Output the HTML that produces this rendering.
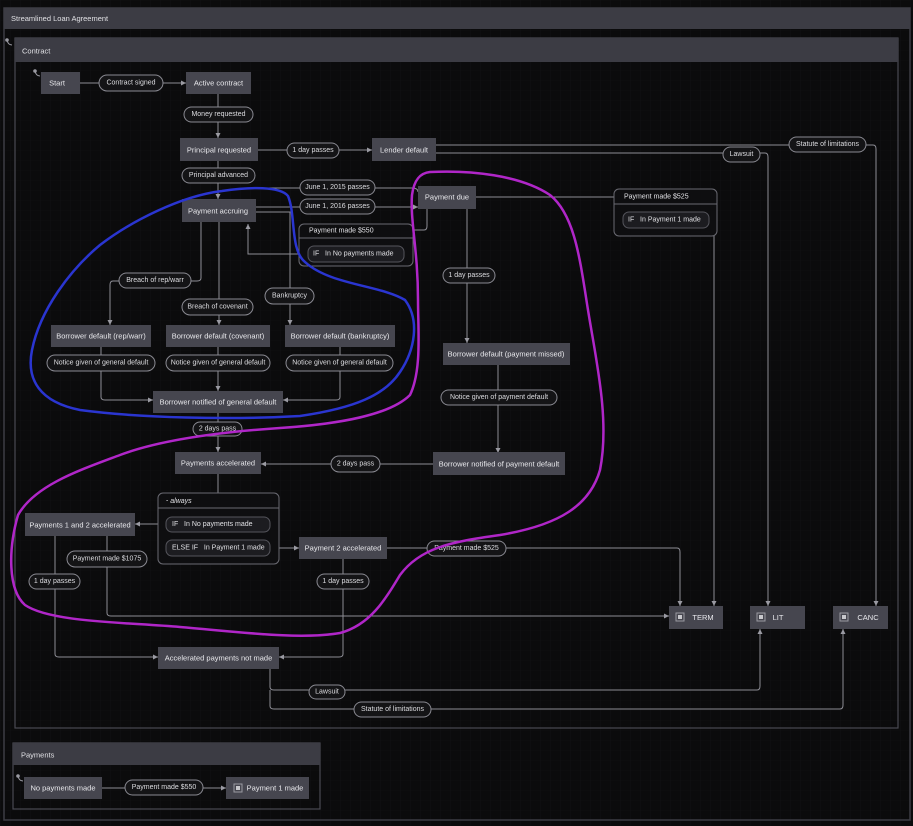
<!DOCTYPE html>
<html><head><meta charset="utf-8"><style>
html,body{margin:0;padding:0;background:#0b0b0c;}
svg{display:block;font-family:"Liberation Sans",sans-serif;}
.n{fill:#46464f;}
.nt{fill:#e8e8ec;font-size:7.5px;text-anchor:middle;dominant-baseline:central;}
.p{fill:#141416;stroke:#8a8a92;stroke-width:1;}
.pt{fill:#dcdce0;font-size:7px;text-anchor:middle;dominant-baseline:central;}
.e{fill:none;stroke:#8c8c94;stroke-width:1;}
.hdr{fill:#3c3c44;}
.ht{fill:#e0e0e4;font-size:7.5px;dominant-baseline:central;white-space:pre;}
</style></head><body>
<svg width="913" height="826" viewBox="0 0 913 826" xmlns="http://www.w3.org/2000/svg">
<defs>
<pattern id="g" width="10" height="10" patternUnits="userSpaceOnUse"><path d="M10 0H0V10" fill="none" stroke="#141416" stroke-width="0.6"/></pattern>
<marker id="a" markerWidth="6" markerHeight="6" refX="5" refY="3" orient="auto"><path d="M0,0.5 L5,3 L0,5.5z" fill="#9a9aa2"/></marker>
</defs>
<rect width="913" height="826" fill="#0b0b0c"/>
<rect width="913" height="826" fill="url(#g)"/>
<rect x="4" y="8" width="906" height="812" fill="none" stroke="#3c3c44" stroke-width="1.5"/>
<rect x="4" y="8" width="906" height="21" class="hdr"/>
<text x="11" y="18.5" class="ht">Streamlined Loan Agreement</text>
<rect x="15" y="38" width="883" height="690" fill="none" stroke="#4a4a52" stroke-width="1.2"/>
<rect x="15" y="38" width="883" height="24" class="hdr"/>
<text x="22" y="51" class="ht">Contract</text>
<rect x="13" y="743" width="307" height="66" fill="none" stroke="#4a4a52" stroke-width="1.2"/>
<rect x="13" y="743" width="307" height="22" class="hdr"/>
<text x="21" y="755" class="ht">Payments</text>

<g class="e">
<path d="M80 83H186" marker-end="url(#a)"/>
<path d="M218 94V138" marker-end="url(#a)"/>
<path d="M258 150H372" marker-end="url(#a)"/>
<path d="M218 161V199" marker-end="url(#a)"/>
<path d="M246 188H412Q418 188 418 192" />
<path d="M256 207H418" marker-end="url(#a)"/>
<path d="M256 212H290V325" marker-end="url(#a)"/>
<path d="M404 254H248V224" marker-end="url(#a)"/>
<path d="M413 230H424Q427 230 427 226V209"/>
<path d="M201 222V278Q201 281 197 281H191"/>
<path d="M119 281H113Q110 281 110 285V325" marker-end="url(#a)"/>
<path d="M219 222V325" marker-end="url(#a)"/>
<path d="M101 347V397Q101 400 105 400H153" marker-end="url(#a)"/>
<path d="M218 347V391" marker-end="url(#a)"/>
<path d="M340 347V397Q340 400 336 400H283" marker-end="url(#a)"/>
<path d="M218 413V452" marker-end="url(#a)"/>
<path d="M476 197H614"/>
<path d="M714 236V606" marker-end="url(#a)"/>
<path d="M436 145H873Q876 145 876 149V606" marker-end="url(#a)"/>
<path d="M436 153H765Q768 153 768 157V606" marker-end="url(#a)"/>
<path d="M467 209V343" marker-end="url(#a)"/>
<path d="M498 365V453" marker-end="url(#a)"/>
<path d="M433 464H261" marker-end="url(#a)"/>
<path d="M218 474V493"/>
<path d="M166 524H135" marker-end="url(#a)"/>
<path d="M270 548H299" marker-end="url(#a)"/>
<path d="M387 548H677Q680 548 680 552V606" marker-end="url(#a)"/>
<path d="M107 536V613Q107 616 111 616H669" marker-end="url(#a)"/>
<path d="M55 536V654Q55 657 59 657H158" marker-end="url(#a)"/>
<path d="M343 559V654Q343 657 339 657H279" marker-end="url(#a)"/>
<path d="M270 669V687Q270 690 274 690H757Q760 690 760 686V629" marker-end="url(#a)"/>
<path d="M270 690V706Q270 709 274 709H840Q843 709 843 705V629" marker-end="url(#a)"/>
<path d="M102 788H226" marker-end="url(#a)"/>
</g>

<g>
<rect class="n" x="41" y="72" width="39" height="22"/><text class="nt" x="57" y="83">Start</text>
<rect class="n" x="186" y="72" width="65" height="22"/><text class="nt" x="218.5" y="83">Active contract</text>
<rect class="n" x="180" y="138" width="78" height="23"/><text class="nt" x="219" y="150">Principal requested</text>
<rect class="n" x="372" y="138" width="64" height="23"/><text class="nt" x="404" y="150">Lender default</text>
<rect class="n" x="182" y="199" width="74" height="23"/><text class="nt" x="218" y="211">Payment accruing</text>
<rect class="n" x="418" y="186" width="58" height="23"/><text class="nt" x="447" y="197">Payment due</text>
<rect class="n" x="51" y="325" width="100" height="22"/><text class="nt" x="101" y="336">Borrower default (rep/warr)</text>
<rect class="n" x="166" y="325" width="104" height="22"/><text class="nt" x="218" y="336">Borrower default (covenant)</text>
<rect class="n" x="285" y="325" width="110" height="22"/><text class="nt" x="340" y="336">Borrower default (bankruptcy)</text>
<rect class="n" x="153" y="391" width="130" height="22"/><text class="nt" x="218" y="402">Borrower notified of general default</text>
<rect class="n" x="443" y="343" width="127" height="22"/><text class="nt" x="506" y="354">Borrower default (payment missed)</text>
<rect class="n" x="433" y="452" width="132" height="23"/><text class="nt" x="499" y="464">Borrower notified of payment default</text>
<rect class="n" x="175" y="452" width="86" height="22"/><text class="nt" x="218" y="463">Payments accelerated</text>
<rect class="n" x="25" y="513" width="110" height="23"/><text class="nt" x="80" y="525">Payments 1 and 2 accelerated</text>
<rect class="n" x="299" y="537" width="88" height="22"/><text class="nt" x="343" y="548">Payment 2 accelerated</text>
<rect class="n" x="158" y="647" width="121" height="22"/><text class="nt" x="218.5" y="658">Accelerated  payments not made</text>
<rect class="n" x="669" y="606" width="54" height="23"/><text class="nt" x="703" y="617.5">TERM</text>
<rect class="n" x="750" y="606" width="55" height="23"/><text class="nt" x="778" y="617.5">LIT</text>
<rect class="n" x="833" y="606" width="55" height="23"/><text class="nt" x="868" y="617.5">CANC</text>
<rect class="n" x="24" y="777" width="78" height="22"/><text class="nt" x="63" y="788">No payments made</text>
<rect class="n" x="226" y="777" width="83" height="22"/><text class="nt" x="275" y="788">Payment 1 made</text>
</g>
<g fill="none" stroke="#9a9aa2">
<rect x="676" y="613" width="8" height="8"/><rect x="757" y="613" width="8" height="8"/><rect x="840" y="613" width="8" height="8"/><rect x="234" y="784" width="8" height="8"/>
</g>
<g fill="#c8c8cc"><rect x="678" y="615" width="4" height="4"/><rect x="759" y="615" width="4" height="4"/><rect x="842" y="615" width="4" height="4"/><rect x="236" y="786" width="4" height="4"/></g>
<g stroke="#9a9aa2" fill="#9a9aa2"><circle cx="7" cy="40" r="1.3"/><path d="M7 40Q8 45 12 45" fill="none"/><circle cx="35" cy="71" r="1.3"/><path d="M35 71Q36 76 40 76" fill="none"/><circle cx="18" cy="776" r="1.3"/><path d="M18 776Q19 781 23 781" fill="none"/></g>

<g>
<rect x="299" y="224" width="114" height="42" rx="5" fill="#0e0e10" stroke="#6a6a72"/>
<path d="M299 238H413" stroke="#6a6a72"/>
<text x="309" y="231" class="ht" style="font-size:7px">Payment made $550</text>
<rect x="308" y="246" width="96" height="16" rx="6" fill="#1c1c20" stroke="#55555c"/>
<text x="313" y="254" class="ht" style="font-size:7px">IF   In No payments made</text>

<rect x="614" y="189" width="103" height="47" rx="5" fill="#0e0e10" stroke="#6a6a72"/>
<path d="M614 204H717" stroke="#6a6a72"/>
<text x="624" y="197" class="ht" style="font-size:7px">Payment made $525</text>
<rect x="623" y="212" width="86" height="16" rx="6" fill="#1c1c20" stroke="#55555c"/>
<text x="628" y="220" class="ht" style="font-size:7px">IF   In Payment 1 made</text>

<rect x="158" y="493" width="121" height="71" rx="5" fill="#0e0e10" stroke="#6a6a72"/>
<path d="M158 508H279" stroke="#6a6a72"/>
<text x="166" y="501" class="ht" style="font-size:7px">- <tspan font-style="italic">always</tspan></text>
<rect x="166" y="517" width="104" height="15" rx="6" fill="#1c1c20" stroke="#55555c"/>
<text x="172" y="524.5" class="ht" style="font-size:7px">IF   In No payments made</text>
<rect x="166" y="540" width="104" height="16" rx="6" fill="#1c1c20" stroke="#55555c"/>
<text x="172" y="548" class="ht" style="font-size:7px">ELSE IF   In Payment 1 made</text>
</g>

<g>
<rect class="p" x="99" y="75" width="64" height="16" rx="8"/><text class="pt" x="131" y="83">Contract signed</text>
<rect class="p" x="184" y="107" width="69" height="15" rx="7.5"/><text class="pt" x="218.5" y="114.5">Money requested</text>
<rect class="p" x="287" y="143" width="52" height="15" rx="7.5"/><text class="pt" x="313" y="150.5">1 day passes</text>
<rect class="p" x="182" y="168" width="73" height="15" rx="7.5"/><text class="pt" x="218.5" y="175.5">Principal advanced</text>
<rect class="p" x="300" y="180" width="75" height="15" rx="7.5"/><text class="pt" x="337.5" y="187.5">June 1, 2015 passes</text>
<rect class="p" x="300" y="199" width="75" height="15" rx="7.5"/><text class="pt" x="337.5" y="206.5">June 1, 2016 passes</text>
<rect class="p" x="119" y="273" width="72" height="15" rx="7.5"/><text class="pt" x="155" y="280.5">Breach of rep/warr</text>
<rect class="p" x="182" y="299" width="71" height="16" rx="8"/><text class="pt" x="217.5" y="307">Breach of covenant</text>
<rect class="p" x="265" y="288" width="49" height="16" rx="8"/><text class="pt" x="289.5" y="296">Bankruptcy</text>
<rect class="p" x="47" y="355" width="108" height="16" rx="8"/><text class="pt" x="101" y="363">Notice given of general default</text>
<rect class="p" x="166" y="355" width="104" height="16" rx="8"/><text class="pt" x="218" y="363">Notice given of general default</text>
<rect class="p" x="286" y="355" width="107" height="16" rx="8"/><text class="pt" x="339.5" y="363">Notice given of general default</text>
<rect class="p" x="443" y="268" width="52" height="15" rx="7.5"/><text class="pt" x="469" y="275.5">1 day passes</text>
<rect class="p" x="441" y="390" width="116" height="15" rx="7.5"/><text class="pt" x="499" y="397.5">Notice given of payment default</text>
<rect class="p" x="193" y="422" width="49" height="14" rx="7"/><text class="pt" x="217.5" y="429">2 days pass</text>
<rect class="p" x="331" y="456" width="49" height="16" rx="8"/><text class="pt" x="355.5" y="464">2 days pass</text>
<rect class="p" x="67" y="551" width="80" height="16" rx="8"/><text class="pt" x="107" y="559">Payment made $1075</text>
<rect class="p" x="29" y="574" width="51" height="15" rx="7.5"/><text class="pt" x="54.5" y="581.5">1 day passes</text>
<rect class="p" x="317" y="574" width="52" height="15" rx="7.5"/><text class="pt" x="343" y="581.5">1 day passes</text>
<rect class="p" x="427" y="541" width="79" height="15" rx="7.5"/><text class="pt" x="466.5" y="548.5">Payment made $525</text>
<rect class="p" x="723" y="147" width="37" height="15" rx="7.5"/><text class="pt" x="741.5" y="154.5">Lawsuit</text>
<rect class="p" x="789" y="137" width="77" height="15" rx="7.5"/><text class="pt" x="827.5" y="144.5">Statute of limitations</text>
<rect class="p" x="309" y="685" width="36" height="14" rx="7"/><text class="pt" x="327" y="692">Lawsuit</text>
<rect class="p" x="354" y="702" width="77" height="15" rx="7.5"/><text class="pt" x="392.5" y="709.5">Statute of limitations</text>
<rect class="p" x="125" y="780" width="78" height="15" rx="7.5"/><text class="pt" x="164" y="787.5">Payment made $550</text>
</g>

<path d="M222 191 C250 187 280 186 288 196 C296 215 290 250 305 262 C330 285 380 285 405 300 C420 320 415 350 400 372 C385 395 355 408 300 416 C230 420 140 418 80 410 C40 402 26 380 32 350 C40 310 70 270 100 245 C130 222 180 196 222 191 Z" fill="none" stroke="#2a35d0" stroke-width="2.5"/>
<path d="M430 172 C470 170 520 175 550 195 C575 215 580 260 588 310 C596 360 610 420 600 470 C590 505 560 525 500 535 C450 542 420 548 400 575 C385 600 370 625 340 633 C300 640 240 632 180 627 C120 622 50 622 25 605 C8 590 8 550 18 515 C35 485 80 470 120 455 C160 440 220 432 280 428 C340 424 390 415 410 395 C422 370 418 330 418 300 C418 250 410 220 412 195 C414 180 420 173 430 172 Z" fill="none" stroke="#b026c8" stroke-width="2.5"/>
</svg>
</body></html>
